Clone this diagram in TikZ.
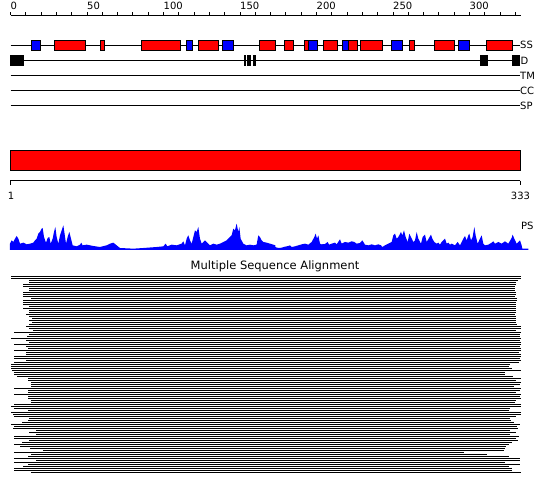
\documentclass[tikz,border=0pt]{standalone}
\usepackage{fontspec}
\newfontfamily\labfont{DejaVu Sans}
\begin{document}
\begin{tikzpicture}[x=1pt,y=-1pt,
  lab/.style={font=\labfont\fontsize{10}{12}\selectfont,inner sep=0pt,text=black},
  trk/.style={line width=0.9pt,black},
  ssred/.style={fill=red,draw=black,line width=0.8pt},
  ssblue/.style={fill=blue,draw=black,line width=0.8pt},
  dbox/.style={fill=black,draw=none},
  msa/.style={line width=1pt,black}]
\useasboundingbox[fill=white] (0,0) rectangle (550,495);
% top ruler
\coordinate (r0) at (10.5,15);
\coordinate (r1) at (521,15);
\draw[trk] (r0) -- (r1);
\foreach \k in {0,...,33}{\draw[trk] ({10.5+15.3*\k},12.3) -- ({10.5+15.3*\k},15);}
\foreach \v/\k in {0/0,50/5,100/10,150/15,200/20,250/25,300/30}{
  \node[lab,anchor=base west] (rl\v) at ({10.5+15.3*\k},10) {\v};}
% SS track
\coordinate (ss0) at (10.5,45); \coordinate (ss1) at (520,45);
\draw[trk] (ss0) -- (ss1);
\foreach \a/\b in {31/40.7,186/192.7,222.3/233.7,308.3/317.7,342.3/348.3,391.3/402.7,458.3/469.7}{
  \draw[ssblue] (\a,40) rectangle (\b,50.5);}
\foreach \a/\b in {54.3/85.7,100/104.7,141.3/180.3,198.3/218.7,259.3/275,284/293.7,304.3/308.3,323.3/337.7,348.3/357.3,360.3/382.7,409.3/414.3,434.3/454.7,486.3/512.7}{
  \draw[ssred] (\a,40) rectangle (\b,50.5);}
\node[lab,anchor=west] (lss) at (520,45.3) {SS};
% D track
\coordinate (d0) at (10.5,60.3); \coordinate (d1) at (520,60.3);
\draw[trk] (d0) -- (d1);
\foreach \a/\b in {10/24,244.3/246,247.3/250.7,253/255.7,480/488,512/520}{
  \fill[dbox] (\a,55) rectangle (\b,65.7);}
\node[lab,anchor=west] (ld) at (520.5,60.5) {D};
% TM CC SP
\coordinate (t0) at (10.5,75.3); \coordinate (t1) at (520,75.3);
\draw[trk] (t0) -- (t1);
\node[lab,anchor=west] (ltm) at (520,75.5) {TM};
\coordinate (c0) at (10.5,90.3); \coordinate (c1) at (520,90.3);
\draw[trk] (c0) -- (c1);
\node[lab,anchor=west] (lcc) at (520,90.5) {CC};
\coordinate (p0) at (10.5,105.3); \coordinate (p1) at (520,105.3);
\draw[trk] (p0) -- (p1);
\node[lab,anchor=west] (lsp) at (520,105.5) {SP};
% red bar
\draw[fill=red,draw=black,line width=0.9pt] (10,150) rectangle (520,170.5);
% second ruler
\coordinate (b0) at (10.3,180.7); \coordinate (b1) at (520.3,180.7);
\draw[trk] (b0) -- (b1);
\draw[trk] (10.3,180.7) -- (10.3,185.5);
\draw[trk] (520.3,180.7) -- (520.3,185.5);
\node[lab,anchor=base] (lone) at (11,199.5) {1};
\node[lab,anchor=base] (lend) at (520.5,199.5) {333};
% PS profile
\begin{scope}[shift={(0,212)},x=0.3333pt,y=-0.3333pt]
\fill[blue] (30,114) -- (30,95) -- (35,85) -- (40,90) -- (45,80) -- (50,72) -- (55,80) -- (60,95) -- (70,92) -- (80,97) -- (90,95) -- (100,92) -- (105,85) -- (110,80) -- (115,65) -- (120,60) -- (125,50) -- (128,48) -- (132,75) -- (138,92) -- (143,78) -- (148,75) -- (152,95) -- (158,80) -- (162,60) -- (166,45) -- (170,75) -- (175,95) -- (180,70) -- (185,55) -- (190,40) -- (193,60) -- (198,95) -- (203,75) -- (208,60) -- (213,80) -- (218,100) -- (230,103) -- (240,98) -- (244,92) -- (248,100) -- (260,98) -- (270,100) -- (280,102) -- (300,105) -- (320,100) -- (330,95) -- (340,92) -- (350,100) -- (360,108) -- (400,110) -- (430,108) -- (470,105) -- (490,103) -- (497,95) -- (502,103) -- (515,98) -- (530,100) -- (545,95) -- (550,88) -- (555,100) -- (560,80) -- (565,70) -- (570,85) -- (575,95) -- (580,75) -- (585,55) -- (590,60) -- (595,45) -- (600,80) -- (605,95) -- (610,90) -- (615,85) -- (620,90) -- (630,100) -- (640,95) -- (650,98) -- (660,95) -- (670,90) -- (680,85) -- (690,75) -- (695,70) -- (700,50) -- (705,55) -- (710,35) -- (715,60) -- (718,45) -- (722,80) -- (730,95) -- (740,100) -- (750,98) -- (760,100) -- (770,98) -- (775,70) -- (780,75) -- (785,85) -- (790,90) -- (800,92) -- (810,95) -- (820,98) -- (826,100) -- (826,114) -- cycle;
\end{scope}
\begin{scope}[shift={(275,212)},x=0.3333pt,y=-0.3333pt]
\fill[blue] (-1,114) -- (-1,100) -- (0,105) -- (10,108) -- (20,107) -- (30,104) -- (40,102) -- (45,100) -- (50,105) -- (60,103) -- (70,100) -- (80,97) -- (90,95) -- (100,98) -- (110,90) -- (118,75) -- (122,65) -- (126,80) -- (130,70) -- (135,95) -- (140,97) -- (150,96) -- (158,90) -- (162,98) -- (170,95) -- (180,92) -- (185,97) -- (195,82) -- (200,95) -- (210,90) -- (220,92) -- (230,88) -- (238,90) -- (245,95) -- (255,93) -- (262,85) -- (270,98) -- (280,100) -- (290,97) -- (300,100) -- (310,97) -- (318,100) -- (322,105) -- (330,100) -- (340,95) -- (350,90) -- (355,70) -- (360,65) -- (365,80) -- (370,75) -- (378,60) -- (382,70) -- (387,55) -- (392,75) -- (398,90) -- (403,65) -- (408,75) -- (415,90) -- (420,85) -- (425,60) -- (430,80) -- (438,95) -- (443,75) -- (450,68) -- (455,90) -- (462,78) -- (468,68) -- (472,80) -- (478,90) -- (485,95) -- (490,92) -- (495,98) -- (500,90) -- (505,85) -- (510,80) -- (515,95) -- (520,92) -- (525,98) -- (530,95) -- (540,100) -- (548,90) -- (555,100) -- (565,80) -- (570,72) -- (575,85) -- (580,70) -- (583,65) -- (588,85) -- (593,75) -- (598,45) -- (602,70) -- (608,95) -- (615,80) -- (620,70) -- (625,95) -- (630,100) -- (640,98) -- (650,92) -- (655,88) -- (660,95) -- (670,90) -- (680,95) -- (690,88) -- (700,95) -- (710,78) -- (713,68) -- (718,80) -- (725,95) -- (735,85) -- (740,100) -- (742,110) -- (760,110) -- (760,114) -- cycle;
\end{scope}
\node[lab,anchor=west] (lps) at (521,226) {PS};
% MSA
\node[lab,font=\labfont\fontsize{11.5}{13}\selectfont,anchor=base] (title) at (275,269.5) {Multiple Sequence Alignment};
\foreach \l/\r [count=\i from 0] in {11/521,11/521,29/518,29/516,23/516,23/515,29/515,29/515,23/516,23/516,23/515,31/517,23/517,23/516,23/516,29/516,23/516,29/516,29/516,26/515,29/516,32/516,29/516,32/516,29/517,26/521,29/521,33/516,14/521,29/520,27/520,11/521,26/520,29/521,14/521,26/520,28/521,14/521,26/519,26/521,14/521,14/520,26/521,14/519,11/510,11/509,11/512,12/521,14/505,14/505,17/513,28/521,28/516,31/521,31/520,31/514,14/521,28/520,28/516,14/521,28/520,28/521,31/516,31/515,14/521,11/521,14/510,28/509,11/521,13/521,14/516,29/510,28/511,22/514,11/520,14/517,13/518,36/510,29/516,36/510,14/519,14/516,29/518,22/512,14/509,20/506,30/505,43/504,14/464,31/487,28/509,14/520,36/520,14/505,28/520,23/509,14/512,14/512,31/521}{
  \draw[msa] (\l,{276.5+2*\i}) -- (\r,{276.5+2*\i});}
\end{tikzpicture}
\end{document}
